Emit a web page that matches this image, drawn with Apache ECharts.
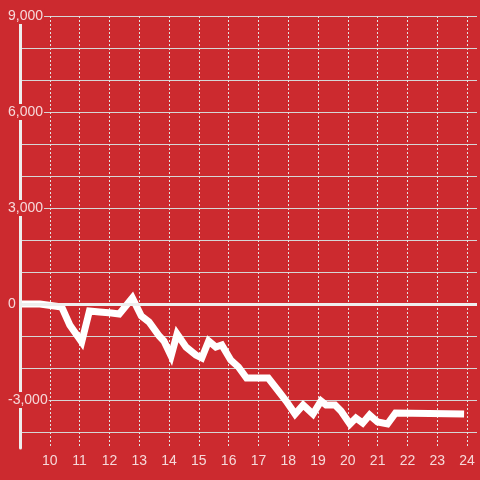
<!DOCTYPE html>
<html>
<head>
<meta charset="utf-8">
<script src="https://cdn.jsdelivr.net/npm/echarts@6/dist/echarts.min.js"></script>
<style>
html,body{margin:0;padding:0;background:#cc2a2f;}
#chart{width:480px;height:480px;}
</style>
</head>
<body>
<div id="chart"></div>
<script>
// Data
var xValues = [9.0, 9.67, 10.4, 10.67, 11.07, 11.33, 11.67, 12.07, 12.33, 12.77, 13.07, 13.33, 13.67, 13.83, 14.07, 14.27, 14.57, 14.9, 15.1, 15.33, 15.57, 15.77, 16.07, 16.33, 16.6, 17.33, 17.67, 17.93, 18.23, 18.5, 18.83, 19.1, 19.27, 19.57, 19.77, 20.07, 20.27, 20.5, 20.73, 21.0, 21.33, 21.6, 23.9];
var yValues = [0, 0, -94, -656, -1188, -219, -250, -281, -313, 188, -375, -563, -1000, -1156, -1625, -938, -1344, -1594, -1688, -1156, -1344, -1281, -1750, -1969, -2313, -2313, -2719, -3031, -3438, -3156, -3438, -3031, -3156, -3156, -3344, -3750, -3563, -3719, -3469, -3688, -3750, -3406, -3438];
var xTickLabels = [10, 11, 12, 13, 14, 15, 16, 17, 18, 19, 20, 21, 22, 23, 24];
var yTickLabels = [-3000, 0, 3000, 6000, 9000];
var zeroLine = [0];

var BG = '#cc2a2f';
var TXT = 'rgba(255,255,255,0.82)';
var FONT = 'Liberation Sans';

var seriesData = xValues.map(function (x, i) { return [x, yValues[i]]; });

var chart = echarts.init(document.getElementById('chart'), null, {renderer: 'canvas'});
chart.setOption({
  animation: false,
  backgroundColor: BG,
  grid: {left: 20, right: 0, top: 16, bottom: 32, containLabel: false},
  xAxis: {
    type: 'value', min: 9, max: 9 + 460 / 30, interval: 1,
    axisLine: {show: false}, axisTick: {show: false},
    axisLabel: {
      color: TXT, fontFamily: FONT, fontSize: 14, margin: 6,
      formatter: function (v) { return xTickLabels.indexOf(v) >= 0 ? String(v) : ''; }
    },
    splitLine: {show: true, showMaxLine: false, lineStyle: {color: '#e2e2e2', width: 1, type: [2, 2]}}
  },
  yAxis: [{
    type: 'value', min: -4500, max: 9000, interval: 500, z: 5,
    axisLine: {show: true, lineStyle: {color: '#eeeeee', width: 3}},
    axisTick: {show: false},
    splitLine: {show: false},
    axisLabel: {
      color: TXT, fontFamily: FONT, fontSize: 14, margin: 14, align: 'left',
      backgroundColor: BG, padding: [1, 1, 1, 2], lineHeight: 14,
      formatter: function (v) { return yTickLabels.indexOf(v) >= 0 ? v.toLocaleString('en-US') : ''; }
    }
  }, {
    type: 'value', min: -4500, max: 9000, interval: 500, z: 0,
    axisLine: {show: false}, axisTick: {show: false}, axisLabel: {show: false},
    splitLine: {show: true, lineStyle: {color: ['rgba(0,0,0,0)', '#d6d6d6'], width: 1}}
  }],
  series: [{
    type: 'line',
    yAxisIndex: 0,
    data: seriesData,
    showSymbol: false,
    symbol: 'none',
    lineStyle: {color: '#ffffff', width: 7, cap: 'butt', join: 'miter'},
    z: 3,
    markLine: {
      silent: true, symbol: ['none', 'none'], label: {show: false},
      lineStyle: {color: '#eeeeee', width: 3, type: 'solid'},
      data: zeroLine.map(function (v) { return {yAxis: v}; })
    }
  }]
});
</script>
</body>
</html>
